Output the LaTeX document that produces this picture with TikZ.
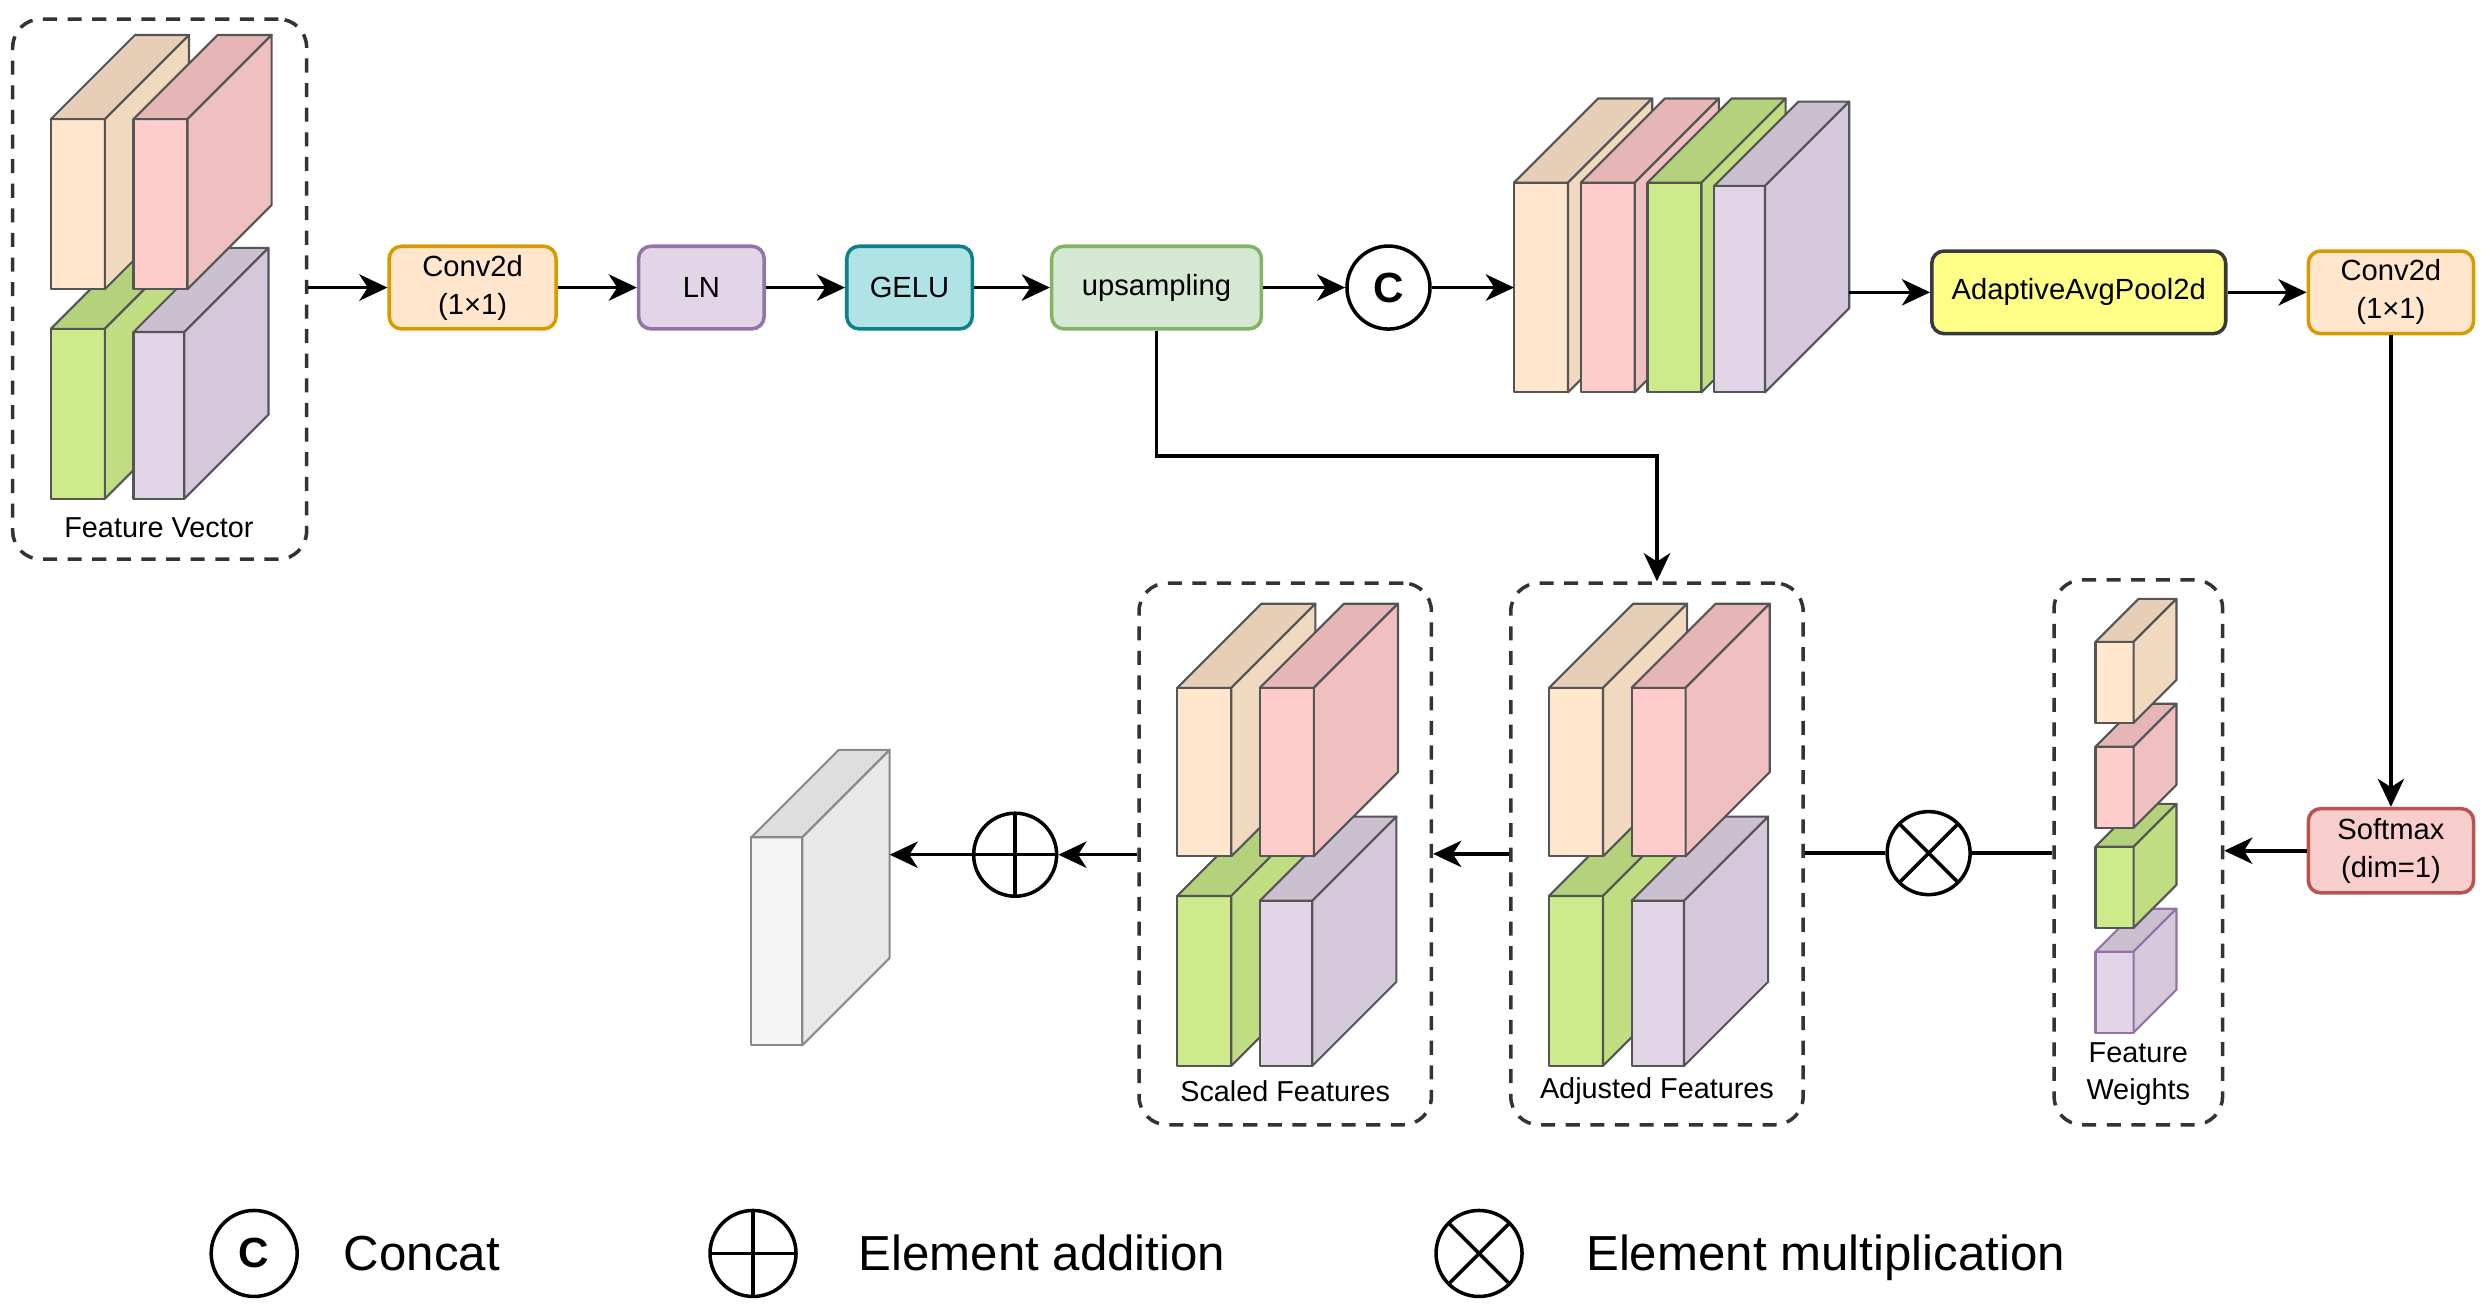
\documentclass[tikz,border=0pt]{standalone}
\usepackage{fontspec}
\setmainfont{Liberation Sans}
\usetikzlibrary{arrows.meta,fit}
\definecolor{peF}{HTML}{FFE6CC}\definecolor{peS}{HTML}{F0D9BF}\definecolor{peT}{HTML}{E6CFB6}
\definecolor{piF}{HTML}{FFCCCC}\definecolor{piS}{HTML}{F0BFBF}\definecolor{piT}{HTML}{E6B5B5}
\definecolor{grF}{HTML}{CDEB8B}\definecolor{grS}{HTML}{C0DD82}\definecolor{grT}{HTML}{B4D17B}
\definecolor{laF}{HTML}{E1D5E7}\definecolor{laS}{HTML}{D5C8DA}\definecolor{laT}{HTML}{CBC0D0}
\definecolor{gyF}{HTML}{F5F5F5}\definecolor{gyS}{HTML}{E8E8E8}\definecolor{gyT}{HTML}{DEDEDE}
\definecolor{slabline}{HTML}{555555}
\definecolor{gyline}{HTML}{8A8A8A}
\definecolor{convB}{HTML}{D79B00}\definecolor{convF}{HTML}{FFE6CC}
\definecolor{lnB}{HTML}{9673A6}\definecolor{lnF}{HTML}{E1D5E7}
\definecolor{geB}{HTML}{0E8088}\definecolor{geF}{HTML}{B0E3E6}
\definecolor{upB}{HTML}{82B366}\definecolor{upF}{HTML}{D5E8D4}
\definecolor{poB}{HTML}{36393D}\definecolor{poF}{HTML}{FFFF88}
\definecolor{smB}{HTML}{B85450}\definecolor{smF}{HTML}{F8CECC}
\newcommand\boxfont{\fontsize{8.3}{10.8}\selectfont}
\newcommand\lblfont{\fontsize{8.2}{10.4}\selectfont}
\newcommand\legfont{\fontsize{14}{16}\selectfont}
\newcommand\catfont{\fontsize{12}{12}\selectfont\bfseries}
% \slab[stroke]{x}{y}{w}{h}{depth}{colour prefix}
\newcommand\slab[7][slabline]{%
  \filldraw[draw=#1, fill=#7F, slabedge] (#2,#3) rectangle ++(#4,#5);
  \filldraw[draw=#1, fill=#7T, slabedge] (#2,#3) -- ++(#6,-#6) -- ++(#4,0) -- ++(-#6,#6) -- cycle;
  \filldraw[draw=#1, fill=#7S, slabedge] (#2+#4,#3) -- ++(#6,-#6) -- ++(0,#5) -- ++(-#6,#6) -- cycle;}
\begin{document}
\begin{tikzpicture}[x=0.015887cm, y=-0.015887cm,
  slabedge/.style={line width=0.6pt, line join=round},
  opbox/.style={draw, rounded corners=3.5pt, line width=1pt, inner sep=0pt, align=center, font=\boxfont, minimum height=0.826cm},
  dashbox/.style={draw=black!80, dash pattern=on 4pt off 3pt, line width=1pt, rounded corners=8pt, inner sep=0pt},
  op/.style={circle, draw, line width=1pt, minimum size=0.83cm, inner sep=0pt},
  plus/.style={path picture={\draw[line width=1pt] (path picture bounding box.north) -- (path picture bounding box.south) (path picture bounding box.west) -- (path picture bounding box.east);}},
  times/.style={path picture={\draw[line width=1pt] (path picture bounding box.north west) -- (path picture bounding box.south east) (path picture bounding box.south west) -- (path picture bounding box.north east);}},
  arr/.style={-{Stealth[length=8pt,width=7.5pt,inset=2.4pt]}, line width=1pt},
  conn/.style={line width=1pt},
  lbl/.style={font=\lblfont, align=center, inner sep=0pt},
  legtxt/.style={font=\legfont, anchor=base west, inner sep=0pt}]
\useasboundingbox (0,0) rectangle (1568,824);

% dashed groups
\node[dashbox, fit={(8,12) (193,352)}] (fv) {};
\node[dashbox, fit={(1293,365) (1399,708)}] (fw) {};
\node[dashbox, fit={(951,367) (1135,708)}] (adj) {};
\node[dashbox, fit={(717,367) (901,708)}] (sc) {};

% feature vector slabs
\slab{32}{207}{34}{107}{53}{gr}
\slab{84}{209}{32}{105}{53}{la}
\slab{32}{75}{34}{107}{53}{pe}
\slab{84}{75}{34}{107}{53}{pi}
\node[lbl] (fvl) at (100,332) {Feature Vector};

% concat stack
\slab{953}{115}{34}{132}{53}{pe}
\slab{995}{115}{34}{132}{53}{pi}
\slab{1037}{115}{34}{132}{53}{gr}
\slab{1079}{117}{32}{130}{53}{la}
\coordinate (stackin) at (953,181);
\coordinate (stackout) at (1164,184);

% adjusted features
\slab{975}{564}{34}{107}{53}{gr}
\slab{1027}{567}{33}{104}{53}{la}
\slab{975}{433}{34}{106}{53}{pe}
\slab{1027}{433}{34}{106}{53}{pi}
\node[lbl] (adl) at (1043,687) {Adjusted Features};

% scaled features
\slab{741}{564}{34}{107}{53}{gr}
\slab{793}{567}{33}{104}{53}{la}
\slab{741}{433}{34}{106}{53}{pe}
\slab{793}{433}{34}{106}{53}{pi}
\node[lbl] (scl) at (809,687) {Scaled Features};

% feature weights
\slab[lnB]{1319}{599}{24}{51}{27}{la}
\slab{1319}{533}{24}{51}{27}{gr}
\slab{1319}{470}{24}{51}{27}{pi}
\slab{1319}{404}{24}{51}{27}{pe}
\node[lbl] (fwl) at (1346,676) {Feature\\Weights};

% output slab
\slab[gyline]{473}{527}{32}{131}{55}{gy}
\coordinate (outslab) at (560,538);

% operation boxes
\node[opbox, draw=convB, fill=convF, minimum width=1.668cm] (conv1) at (297.5,181) {Conv2d\\(1×1)};
\node[opbox, draw=lnB, fill=lnF, minimum width=1.255cm] (ln) at (441.5,181) {LN};
\node[opbox, draw=geB, fill=geF, minimum width=1.255cm] (gelu) at (572.5,181) {GELU};
\node[opbox, draw=upB, fill=upF, minimum width=2.097cm] (up) at (728,181) {upsampling};
\node[op] (cat) at (874,181) {\catfont C};
\node[opbox, draw=poB, fill=poF, minimum width=2.939cm] (pool) at (1308.5,184) {AdaptiveAvgPool2d};
\node[opbox, draw=convB, fill=convF, minimum width=1.652cm] (conv2) at (1505,184) {Conv2d\\(1×1)};
\node[opbox, draw=smB, fill=smF, minimum width=1.652cm, minimum height=0.842cm] (soft) at (1505,535.5) {Softmax\\(dim=1)};
\node[op, times] (mul) at (1214,537) {};
\node[op, plus] (add) at (639,538) {};

% connectors
\draw[arr] (fv.east |- conv1.west) -- (conv1.west);
\draw[arr] (conv1.east) -- (ln.west);
\draw[arr] (ln.east) -- (gelu.west);
\draw[arr] (gelu.east) -- (up.west);
\draw[arr] (up.east) -- (cat.west);
\draw[arr] (cat.east) -- (stackin);
\draw[arr] (stackout) -- (pool.west |- stackout);
\draw[arr] (pool.east) -- (conv2.west);
\draw[arr] (conv2.south) -- (soft.north);
\draw[arr] (soft.west) -- (fw.east |- soft.west);
\draw[conn] (fw.west |- mul.east) -- (mul.east);
\draw[conn] (mul.west) -- (adj.east |- mul.west);
\coordinate (bend) at (1043,287);
\draw[arr] (up.south) |- (bend) -- (adj.north);
\draw[arr] (adj.west) -- (sc.east);
\draw[arr] (sc.west |- add.east) -- (add.east);
\draw[arr] (add.west) -- (outslab);

% legend
\node[op, minimum size=0.86cm] (lc) at (160,789) {\catfont C};
\node[legtxt] (lct) at (216,800) {Concat};
\node[op, plus, minimum size=0.86cm] (la) at (474,789) {};
\node[legtxt] (lat) at (540,800) {Element addition};
\node[op, times, minimum size=0.86cm] (lm) at (931,789) {};
\node[legtxt] (lmt) at (998,800) {Element multiplication};
\end{tikzpicture}
\end{document}
